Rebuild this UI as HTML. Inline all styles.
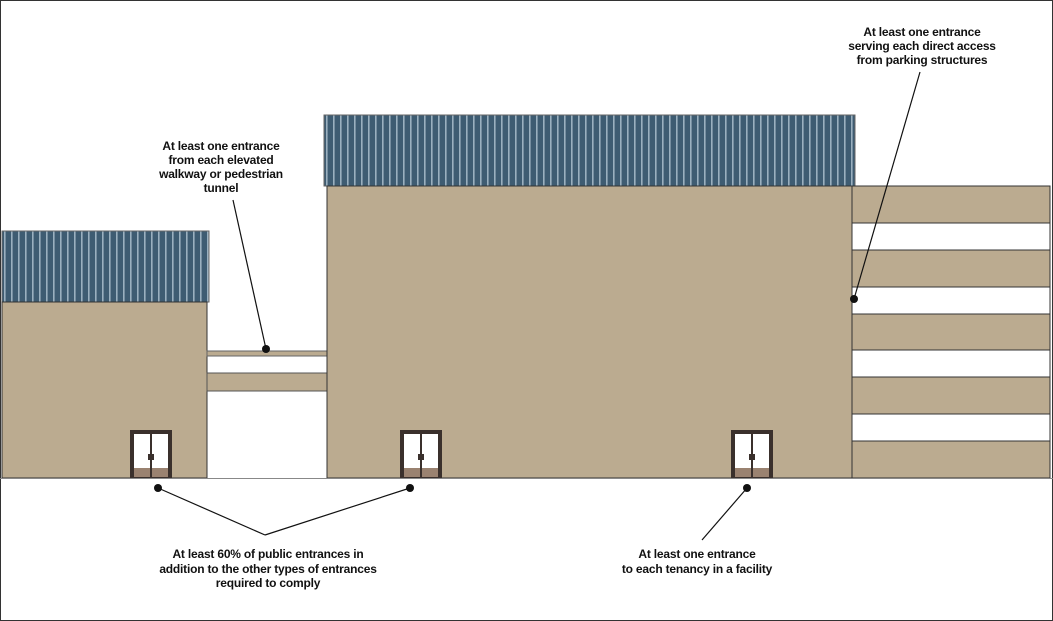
<!DOCTYPE html>
<html><head><style>
body{margin:0;background:#fff;}
svg{display:block}
text{font-family:"Liberation Sans Narrow","Liberation Sans",sans-serif;font-weight:bold;font-size:12px;letter-spacing:-0.2px;fill:#111;text-anchor:middle}
</style></head><body>
<svg width="1053" height="621" viewBox="0 0 1053 621">
<defs>
<pattern id="roof" width="7" height="10" patternUnits="userSpaceOnUse">
<rect width="7" height="10" fill="#3e5c72"/>
<rect x="4" width="1.6" height="10" fill="#9ab0bf"/>
</pattern>
<g id="door">
<rect x="0" y="0" width="42" height="48" fill="#3a302c"/>
<rect x="4" y="4" width="16" height="34" fill="#fff"/>
<rect x="22" y="4" width="16" height="34" fill="#fff"/>
<rect x="4" y="38" width="16" height="9" fill="#9a8270"/>
<rect x="22" y="38" width="16" height="9" fill="#9a8270"/>
<rect x="18" y="24" width="6" height="6" fill="#3a302c"/>
</g>
</defs>
<rect x="0.5" y="0.5" width="1052" height="620" fill="#fff" stroke="#333"/>
<rect x="2" y="231" width="207" height="71" fill="url(#roof)" stroke="#666"/>
<rect x="2" y="302" width="205" height="176" fill="#bbab90" stroke="#333"/>
<rect x="207" y="351" width="120" height="5" fill="#bbab90" stroke="#666"/>
<rect x="207" y="373" width="120" height="18" fill="#bbab90" stroke="#555"/>
<rect x="324" y="115" width="531" height="71" fill="url(#roof)" stroke="#666"/>
<rect x="327" y="186" width="525" height="292" fill="#bbab90" stroke="#333"/>
<g fill="#bbab90" stroke="#333">
<rect x="852" y="186" width="198" height="37"/>
<rect x="852" y="250" width="198" height="37"/>
<rect x="852" y="314" width="198" height="36"/>
<rect x="852" y="377" width="198" height="37"/>
<rect x="852" y="441" width="198" height="37"/>
</g>
<line x1="852" y1="186" x2="852" y2="478" stroke="#333"/>
<line x1="1050" y1="186" x2="1050" y2="478" stroke="#333"/>
<line x1="0" y1="478.5" x2="1053" y2="478.5" stroke="#888"/>
<use href="#door" x="130" y="430"/>
<use href="#door" x="400" y="430"/>
<use href="#door" x="731" y="430"/>
<g stroke="#111" stroke-width="1.2">
<line x1="233" y1="200" x2="266" y2="349"/>
<line x1="920" y1="72" x2="854" y2="299"/>
<line x1="158" y1="488" x2="265" y2="535"/>
<line x1="410" y1="488" x2="265" y2="535"/>
<line x1="747" y1="488" x2="702" y2="540"/>
</g>
<g fill="#111">
<circle cx="266" cy="349" r="4"/>
<circle cx="854" cy="299" r="4"/>
<circle cx="158" cy="488" r="4"/>
<circle cx="410" cy="488" r="4"/>
<circle cx="747" cy="488" r="4"/>
</g>
<text x="221" y="150">At least one entrance</text>
<text x="221" y="164">from each elevated</text>
<text x="221" y="178">walkway or pedestrian</text>
<text x="221" y="192">tunnel</text>
<text x="922" y="36">At least one entrance</text>
<text x="922" y="50">serving each direct access</text>
<text x="922" y="64">from parking structures</text>
<text x="268" y="558">At least 60% of public entrances in</text>
<text x="268" y="573">addition to the other types of entrances</text>
<text x="268" y="587">required to comply</text>
<text x="697" y="558">At least one entrance</text>
<text x="697" y="573">to each tenancy in a facility</text>
</svg>
</body></html>
